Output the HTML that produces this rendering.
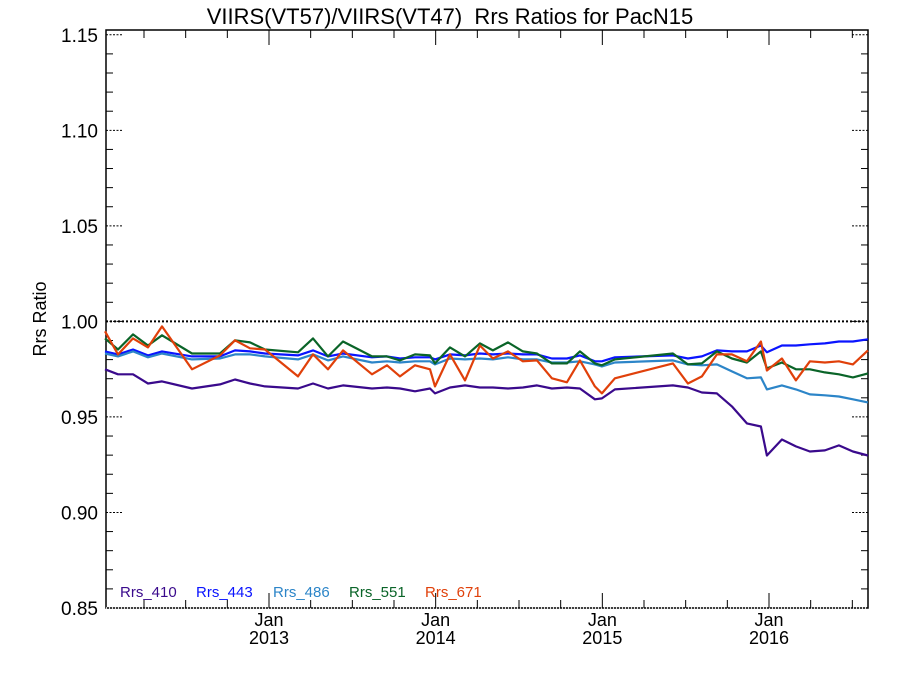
<!DOCTYPE html>
<html><head><meta charset="utf-8"><style>
body{margin:0;background:#fff;}
svg{display:block;font-family:"Liberation Sans",sans-serif;}
</style></head><body>
<svg id="chart" width="900" height="675"></svg>
<script>
const pxX = [105,118,133,148,162,192,220,235,250,265,298,313,328,343,372,387,400,415,430,435,450,465,480,493,508,523,537,552,567,580,595,602,615,673,688,702,717,732,747,761,767,782,796,810,825,839,853,868];
const dates = pxX.map(x => +(2012 + (x - 102.3) / 166.7).toFixed(4));
const seriesNames = ["Rrs_410","Rrs_443","Rrs_486","Rrs_551","Rrs_671"];
const seriesColors = ["#3a0a8c","#0a14ff","#2c85c8","#0a6428","#e0400a"];
const yPix410 = [368,373,373,382,380,387,383,378,382,385,387,382,387,384,387,386,387,390,387,392,386,384,386,386,387,386,384,387,386,387,398,397,388,384,386,391,392,405,422,425,454,438,445,450,449,444,450,454];
const yPix443 = [350,353,348,354,350,355,355,349,350,352,354,349,355,352,356,355,357,356,356,358,353,354,352,353,352,353,353,357,357,354,360,360,356,354,357,355,349,350,350,344,351,344,344,343,342,340,340,338];
const yPix486 = [352,355,350,356,352,358,357,353,353,355,358,353,359,355,361,360,361,360,360,363,357,358,357,358,356,358,358,361,361,360,363,365,361,359,363,364,363,370,377,376,388,384,388,393,394,395,398,401];
const yPix551 = [337,348,333,344,334,352,352,339,341,348,351,337,355,340,355,355,359,353,354,362,346,355,342,349,341,350,352,362,362,350,362,364,358,352,363,362,350,357,361,350,367,361,368,368,371,373,376,372];
const yPix671 = [330,353,337,346,325,368,354,339,347,348,375,353,368,349,373,364,375,364,368,385,353,379,344,357,350,360,359,377,381,359,385,392,377,362,382,375,353,353,360,340,369,357,379,360,361,360,363,349];
const toVal = a => a.map(y => +(1 - (y - 320) / 1910).toFixed(4));
const rrs410 = toVal(yPix410), rrs443 = toVal(yPix443), rrs486 = toVal(yPix486), rrs551 = toVal(yPix551), rrs671 = toVal(yPix671);
const allSeries = [rrs410, rrs443, rrs486, rrs551, rrs671];
const yTicks = [0.85,0.90,0.95,1.00,1.05,1.10,1.15];
const yTickLabels = ["0.85","0.90","0.95","1.00","1.05","1.10","1.15"];
const xYearTicks = [2013,2014,2015,2016];
const xYearLabels = ["2013","2014","2015","2016"];

const L=106,R=868,T=30,B=608;
const X0=2012.022,X1=2016.594,Y0=0.85,Y1=1.1525;
const sx = t => L + (t - X0) / (X1 - X0) * (R - L);
const sy = v => B - (v - Y0) / (Y1 - Y0) * (B - T);
const NS="http://www.w3.org/2000/svg";
const svg=document.getElementById('chart');
function mk(tag, attrs, parent){const e=document.createElementNS(NS,tag);for(const k in attrs)e.setAttribute(k,attrs[k]);(parent||svg).appendChild(e);return e;}

let t=mk('text',{x:450,y:24,'text-anchor':'middle','font-size':22,fill:'#000'});
t.textContent='VIIRS(VT57)/VIIRS(VT47)\u00a0\u00a0Rrs Ratios for PacN15';


t=mk('text',{x:46,y:319,'text-anchor':'middle','font-size':18,transform:'rotate(-90 46 319)'});
t.textContent='Rrs Ratio';



let fr=mk('rect',{x:L,y:T,width:R-L,height:B-T,fill:'none',stroke:'#000','stroke-width':1.5});



const g=mk('g',{});


for(let v=0.85; v<=1.1501; v+=0.01){
  const y=sy(v);
  const major=Math.abs(Math.round(v*100)%5)===0;
  if(major){
    mk('line',{x1:L,x2:L+16,y1:y,y2:y,stroke:'#000','stroke-dasharray':'2,1.5'},g);
    mk('line',{x1:R-16,x2:R,y1:y,y2:y,stroke:'#000','stroke-dasharray':'2,1.5'},g);
  } else {
    mk('line',{x1:L,x2:L+7,y1:y,y2:y,stroke:'#000'},g);
    mk('line',{x1:R-7,x2:R,y1:y,y2:y,stroke:'#000'},g);
  }
}
yTicks.forEach((v,i)=>{
  const tl=mk('text',{x:L-8,y:sy(v)+7,'text-anchor':'end','font-size':19},g);
  tl.textContent=yTickLabels[i];
  
  
});
mk('line',{x1:L,x2:R,y1:B,y2:B,stroke:'#fff','stroke-width':1.5,'stroke-dasharray':'1,2'},g);
const gx=mk('g',{});


for(let q=2012.25;q<X1;q+=0.25){
  const x=sx(q);
  const yr=Math.abs(q-Math.round(q))<0.01;
  const len=yr?15:8;
  mk('line',{x1:x,x2:x,y1:B,y2:B-len,stroke:'#000'},gx);
  mk('line',{x1:x,x2:x,y1:T,y2:T+len,stroke:'#000'},gx);
}
xYearTicks.forEach((yv,i)=>{
  const x=sx(yv);
  let a=mk('text',{x:x,y:626,'text-anchor':'middle','font-size':18},gx);
  a.textContent='Jan';
  
  
  let b=mk('text',{x:x,y:644,'text-anchor':'middle','font-size':18},gx);
  b.textContent=xYearLabels[i];
  
  
});
let rl=mk('line',{x1:L,x2:R,y1:sy(1),y2:sy(1),stroke:'#000','stroke-width':2,'stroke-dasharray':'2,2'});



allSeries.forEach((vals,si)=>{
  const pts=vals.map((v,i)=>sx(dates[i]).toFixed(1)+','+sy(v).toFixed(1)).join(' ');
  const p=mk('polyline',{points:pts,fill:'none',stroke:seriesColors[si],'stroke-width':2.2,'stroke-linejoin':'round'});
  
  
});
const legX=[120,196,273,349,425];
seriesNames.forEach((n,i)=>{
  const lt=mk('text',{x:legX[i],y:597,'font-size':15,fill:seriesColors[i]});
  lt.textContent=n;
  
  
});
</script>
</body></html>
